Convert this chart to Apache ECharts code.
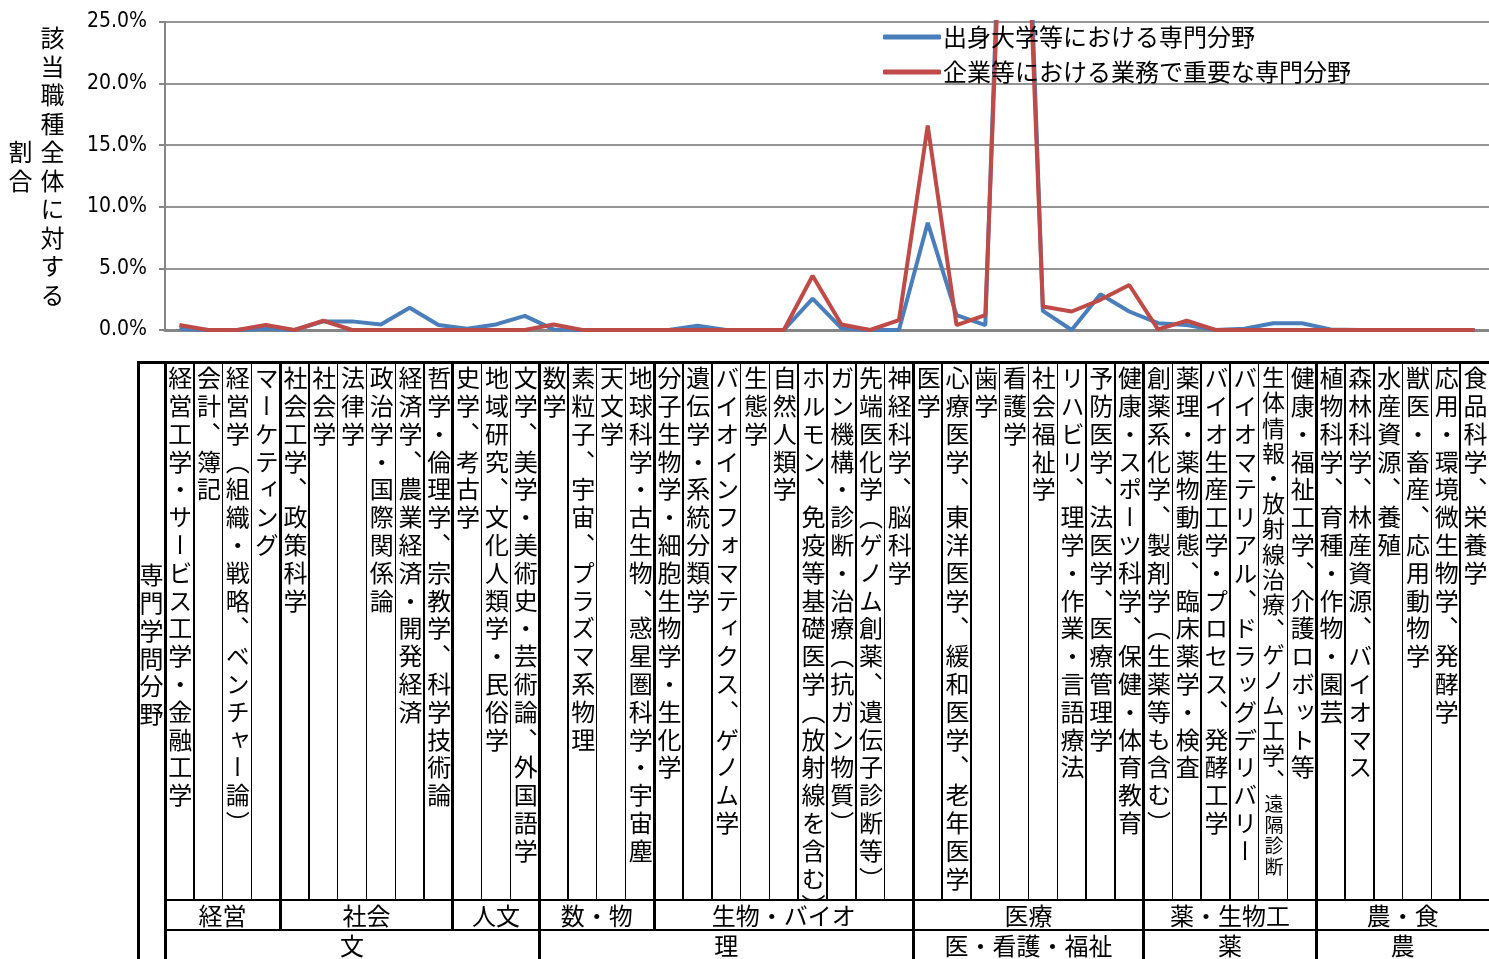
<!DOCTYPE html>
<html><head><meta charset="utf-8">
<script src="https://cdn.jsdelivr.net/npm/echarts/dist/echarts.min.js"></script>
<style>
html,body{margin:0;padding:0;background:#fff;}
body{width:1489px;height:959px;overflow:hidden;position:relative;font-family:'Noto Sans CJK JP',sans-serif;color:#000;}
#chart{position:absolute;left:0;top:0;width:1489px;height:959px;}
#overlay{position:absolute;left:0;top:0;width:1489px;height:959px;pointer-events:none;}
.v{position:absolute;writing-mode:vertical-rl;white-space:nowrap;font-size:24px;letter-spacing:3.8px;color:#000;text-align:left;}
.h{position:absolute;white-space:nowrap;font-size:24px;color:#000;text-align:center;}
.ln{position:absolute;background:#000;}
</style>
</head><body>
<div id="chart"></div>
<div id="overlay"></div>
<script>
// ---- data ----
const categories = [
 '経営工学・サービス工学・金融工学','会計、簿記','経営学（組織・戦略、ベンチャー論）','マーケティング',
 '社会工学、政策科学','社会学','法律学','政治学・国際関係論','経済学、農業経済・開発経済','哲学・倫理学、宗教学、科学技術論',
 '史学、考古学','地域研究、文化人類学・民俗学','文学、美学・美術史・芸術論、外国語学',
 '数学','素粒子、宇宙、プラズマ系物理','天文学','地球科学・古生物、惑星圏科学・宇宙塵',
 '分子生物学・細胞生物学・生化学','遺伝学・系統分類学','バイオインフォマティクス、ゲノム学','生態学','自然人類学',
 'ホルモン、免疫等基礎医学（放射線を含む）','ガン機構・診断・治療（抗ガン物質）','先端医化学（ゲノム創薬、遺伝子診断等）','神経科学、脳科学',
 '医学','心療医学、東洋医学、緩和医学、老年医学','歯学','看護学','社会福祉学','リハビリ、理学・作業・言語療法','予防医学、法医学、医療管理学','健康・スポーツ科学、保健・体育教育',
 '創薬系化学、製剤学（生薬等も含む）','薬理・薬物動態、臨床薬学・検査','バイオ生産工学・プロセス、発酵工学','バイオマテリアル、ドラッグデリバリー','生体情報・放射線治療、ゲノム工学、遠隔診断','健康・福祉工学、介護ロボット等',
 '植物科学、育種・作物・園芸','森林科学、林産資源、バイオマス','水産資源、養殖','獣医・畜産、応用動物学','応用・環境微生物学、発酵学','食品科学、栄養学'
];
const seriesNames = ['出身大学等における専門分野','企業等における業務で重要な専門分野'];
const originValues = [0.1,0,0,0.1,0,0.7,0.7,0.45,1.8,0.4,0.1,0.45,1.15,0.05,0,0,0,0,0.35,0,0,0,2.55,0.15,0,0,8.7,1.2,0.4,68,1.55,0,2.9,1.5,0.55,0.4,0,0.1,0.55,0.55,0.05,0,0,0,0,0];
const businessValues = [0.4,0,0,0.4,0,0.75,0,0,0,0,0,0,0,0.45,0,0,0,0,0,0,0,0,4.4,0.45,0,0.8,16.6,0.4,1.2,62,1.9,1.5,2.45,3.65,0.05,0.75,0,0,0,0,0,0,0,0,0,0];
const yTicks = [0,5,10,15,20,25];
const axisTitle = ['該当職種全体に対する','割合'];
const headerLabel = '専門学問分野';
const groupNames = ['経営','社会','人文','数・物','生物・バイオ','医療','薬・生物工','農・食'];
const groupSizes = [4,6,3,4,9,8,6,6];
const majorNames = ['文','理','医・看護・福祉','薬','農'];
const majorSizes = [13,13,8,6,6];

// ---- layout ----
const GL = 165, GR = 1489, GT = 22, GB = 330;
const chart = echarts.init(document.getElementById('chart'), null, {renderer:'canvas'});
const numFont = "'Liberation Sans Narrow','DejaVu Sans Condensed','Liberation Sans',sans-serif";
chart.setOption({
  animation:false,
  backgroundColor:'#fff',
  grid:{left:GL, top:GT, width:GR-GL, height:GB-GT, containLabel:false},
  legend:{
    left:878, top:20, orient:'vertical', itemWidth:58, itemHeight:5, itemGap:11,
    icon:'roundRect',
    textStyle:{fontSize:24, lineHeight:24, color:'#000', fontFamily:"'Noto Sans CJK JP',sans-serif", padding:[0,0,0,-3]},
    data:seriesNames
  },
  xAxis:{
    type:'category', data:categories, boundaryGap:true,
    axisLine:{show:true, lineStyle:{color:'#868686', width:3}},
    axisTick:{show:false}, axisLabel:{show:false}, splitLine:{show:false}
  },
  yAxis:{
    type:'value', min:yTicks[0], max:yTicks[yTicks.length-1], interval:5,
    axisLine:{show:true, lineStyle:{color:'#868686', width:2}},
    axisTick:{show:true, length:6, lineStyle:{color:'#868686', width:2}},
    axisLabel:{margin:18, fontSize:21, color:'#000', fontFamily:numFont, formatter:v=>v.toFixed(1)+'%'},
    splitLine:{show:true, lineStyle:{color:'#959595', width:2}}
  },
  series:[
    {name:seriesNames[0], type:'line', data:originValues, symbol:'none', clip:true,
     lineStyle:{width:4, color:'#4A7EBB'}, itemStyle:{color:'#4A7EBB'}, z:2},
    {name:seriesNames[1], type:'line', data:businessValues, symbol:'none', clip:true,
     lineStyle:{width:4, color:'#BE4B48'}, itemStyle:{color:'#BE4B48'}, z:3}
  ]
});

// ---- overlay table ----
const ov = document.getElementById('overlay');
function el(cls, css, html){const d=document.createElement('div');d.className=cls;Object.assign(d.style,css);if(html!==undefined)d.innerHTML=html;ov.appendChild(d);return d;}
function vline(x,y1,y2,w){el('ln',{left:(x-w/2)+'px',top:y1+'px',width:w+'px',height:(y2-y1)+'px'});}
function hline(y,x1,x2,w){el('ln',{left:x1+'px',top:(y-w/2)+'px',width:(x2-x1)+'px',height:w+'px'});}

// y-axis title
el('v',{left:'4px',top:'23px',height:'290px',width:'64px',lineHeight:'32px',letterSpacing:'4.5px',textAlign:'center'}, axisTitle.join('<br>'));

const n = categories.length;
const colW = (GR-GL)/n;
const TT = 362, R1 = 900, R2 = 930, BT = 959;
// column edges through library scale
const centers = categories.map((c,i)=>chart.convertToPixel({xAxisIndex:0}, i));
const edge = i => (i<n ? centers[i]-colW/2 : centers[n-1]+colW/2);

// category texts
categories.forEach((c,i)=>{
  const left = edge(i);
  let html = c, css = {left:left+'px', top:'366px', width:colW+'px', height:'532px', lineHeight:colW+'px'};
  if (c.indexOf('遠隔診断')>=0){
    html = c.replace('遠隔診断','<span style="font-size:19px;letter-spacing:2px">遠隔診断</span>');
    css.fontSize='23px'; css.letterSpacing='2.2px';
  }
  el('v', css, html);
});
// header
el('v',{left:'137px',top:'563px',width:'28px',lineHeight:'28px'}, headerLabel);

// boundaries
const gB = new Set(), mB = new Set();
let acc=0; groupSizes.forEach(s=>{acc+=s; gB.add(acc);});
acc=0; majorSizes.forEach(s=>{acc+=s; mB.add(acc);});
for (let i=1;i<n;i++){
  if (mB.has(i)) vline(edge(i), TT, BT, 3);
  else if (gB.has(i)) vline(edge(i), TT, R2, 3);
  else vline(edge(i), TT, R1, 1.5);
}
vline(edge(0), TT, BT, 3);
vline(138, TT, BT, 3);
hline(TT, 137, GR, 3);
hline(R1, edge(0), GR, 2.5);
hline(R2, edge(0), GR, 2.5);

// group labels
let s0=0;
groupNames.forEach((g,k)=>{
  const x1=edge(s0), x2=edge(s0+groupSizes[k]);
  el('h',{left:x1+'px',top:R1+'px',width:(x2-x1)+'px',height:(R2-R1)+'px',lineHeight:(R2-R1)+'px'}, g);
  s0+=groupSizes[k];
});
s0=0;
majorNames.forEach((g,k)=>{
  const x1=edge(s0), x2=edge(s0+majorSizes[k]);
  el('h',{left:x1+'px',top:R2+'px',width:(x2-x1)+'px',height:(BT-R2)+'px',lineHeight:(BT-R2)+'px'}, g);
  s0+=majorSizes[k];
});
</script>
</body></html>
